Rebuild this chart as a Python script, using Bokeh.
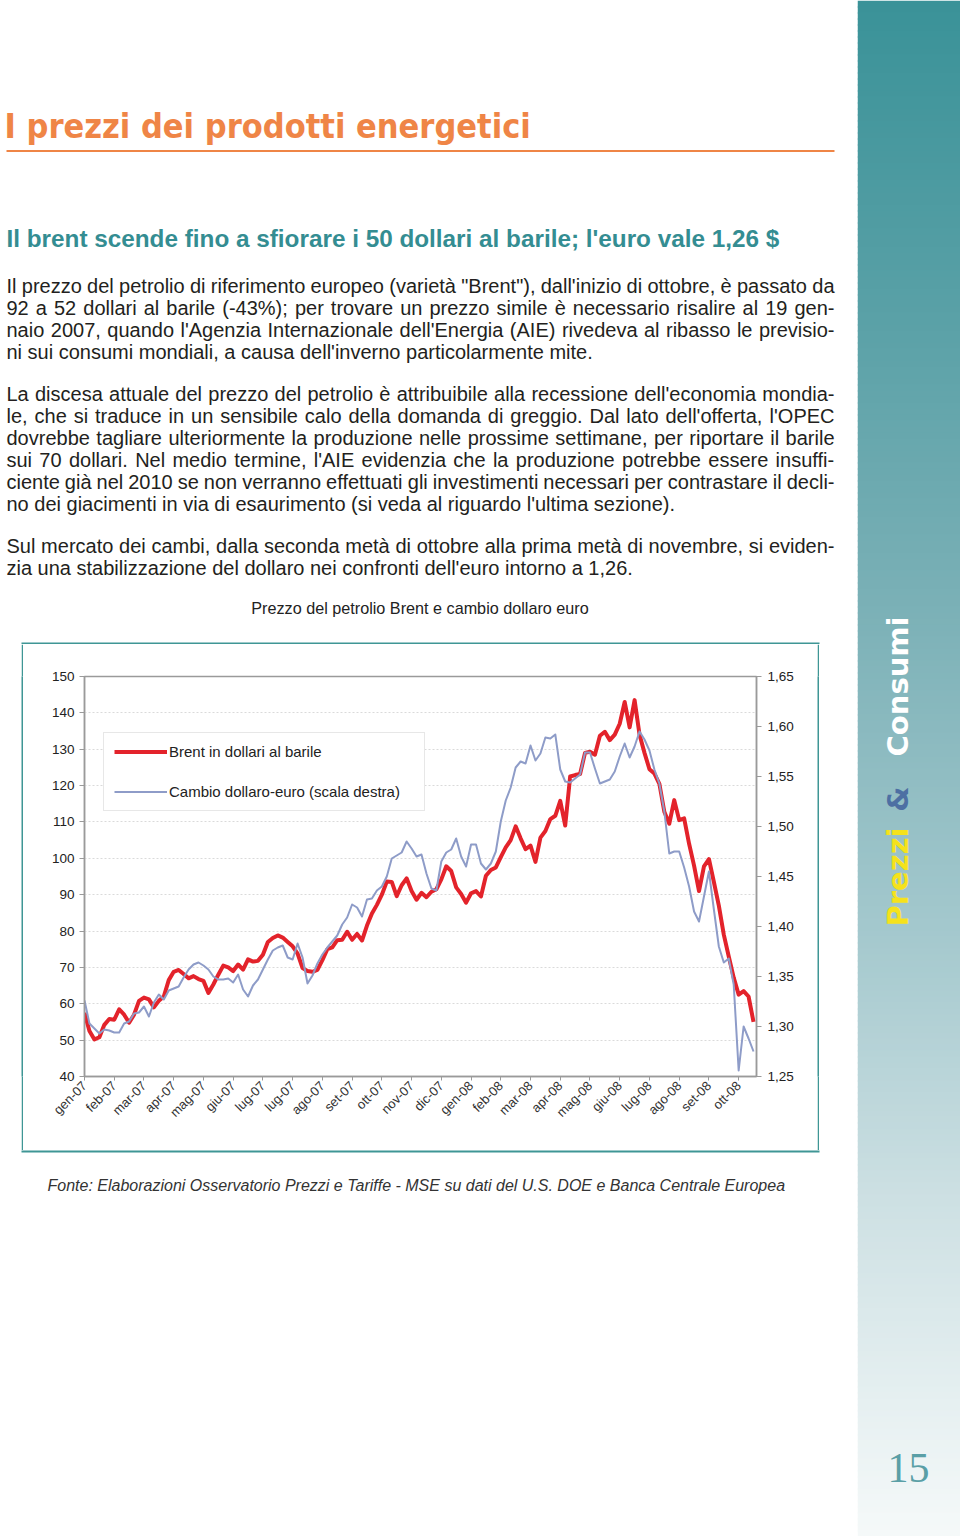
import math
from bokeh.plotting import figure
from bokeh.layouts import row, column
from bokeh.models import Range1d, LinearAxis, FixedTicker, Legend, LegendItem
from bokeh.core.properties import value
from bokeh.embed import file_html
from bokeh.resources import INLINE

# ---------------- data ----------------
month_labels = ["gen-07", "feb-07", "mar-07", "apr-07", "mag-07", "giu-07", "lug-07",
                "lug-07", "ago-07", "set-07", "ott-07", "nov-07", "dic-07", "gen-08",
                "feb-08", "mar-08", "apr-08", "mag-08", "giu-08", "lug-08", "ago-08",
                "set-08", "ott-08"]
points_per_label = 6

brent = [57.5, 52.5, 50.2, 50.8, 54.2, 55.8, 55.6, 58.5, 57.0, 54.8,
         57.0, 60.8, 61.7, 61.2, 59.0, 60.8, 62.0, 66.5, 68.8, 69.3,
         68.2, 67.0, 67.6, 66.8, 66.3, 63.0, 65.3, 68.0, 70.5, 70.0,
         69.0, 70.8, 69.4, 72.2, 71.6, 71.8, 73.5, 77.0, 78.1, 78.8,
         78.2, 77.0, 75.8, 73.8, 69.8, 69.0, 68.8, 69.3, 72.0, 75.0,
         75.5, 77.5, 77.6, 79.8, 77.6, 79.2, 77.4, 81.5, 84.8, 87.2,
         90.0, 93.6, 93.5, 89.6, 92.6, 94.5, 91.0, 88.6, 90.5, 89.3,
         90.8, 91.5, 94.2, 97.8, 96.5, 92.0, 90.2, 87.8, 90.4, 91.0,
         89.5, 95.2, 96.8, 97.5, 100.3, 103.0, 105.0, 108.8, 105.5, 102.5,
         103.5, 99.0, 105.7, 107.5, 110.8, 111.7, 115.8, 109.0, 122.5, 122.9,
         123.2, 129.0, 129.3, 128.5, 133.7, 134.8, 132.5, 134.0, 137.0, 143.0,
         136.0, 143.5, 134.0, 129.0, 124.5, 123.3, 120.5, 112.8, 109.5, 116.0,
         110.5, 111.0, 104.0, 98.0, 91.0, 97.8, 99.8, 93.5, 87.0, 79.0,
         73.0, 67.2, 62.5, 63.5, 62.0, 55.0]

usd = [1.326, 1.303, 1.298, 1.293, 1.297, 1.296, 1.294, 1.294, 1.303, 1.305,
       1.313, 1.314, 1.320, 1.310, 1.324, 1.332, 1.327, 1.336, 1.338, 1.340,
       1.349, 1.357, 1.362, 1.364, 1.361, 1.357, 1.350, 1.347, 1.347, 1.348,
       1.344, 1.352, 1.337, 1.330, 1.341, 1.347, 1.357, 1.367, 1.376, 1.379,
       1.381, 1.369, 1.367, 1.383, 1.369, 1.343, 1.351, 1.363, 1.372, 1.379,
       1.385, 1.391, 1.402, 1.409, 1.422, 1.419, 1.410, 1.427, 1.428, 1.436,
       1.440, 1.450, 1.468, 1.471, 1.474, 1.485, 1.478, 1.470, 1.472, 1.453,
       1.438, 1.436, 1.465, 1.474, 1.477, 1.488, 1.470, 1.460, 1.482, 1.482,
       1.463, 1.457, 1.463, 1.475, 1.505, 1.526, 1.539, 1.559, 1.565, 1.563,
       1.581, 1.566, 1.573, 1.589, 1.588, 1.592, 1.557, 1.545, 1.544, 1.548,
       1.552, 1.574, 1.574, 1.558, 1.543, 1.545, 1.547, 1.555, 1.570, 1.583,
       1.569, 1.580, 1.595, 1.587, 1.576, 1.557, 1.543, 1.515, 1.473, 1.475,
       1.475, 1.459, 1.440, 1.415, 1.405, 1.430, 1.455, 1.417, 1.380, 1.364,
       1.368, 1.342, 1.256, 1.300, 1.288, 1.275]

brent_ticks = [40, 50, 60, 70, 80, 90, 100, 110, 120, 130, 140, 150]
usd_ticks = [1.25, 1.30, 1.35, 1.40, 1.45, 1.50, 1.55, 1.60, 1.65]
usd_tick_labels = ["1,25", "1,30", "1,35", "1,40", "1,45", "1,50", "1,55", "1,60", "1,65"]

legend_labels = ["Brent in dollari al barile", "Cambio dollaro-euro (scala destra)"]
chart_title = "Prezzo del petrolio Brent e cambio dollaro euro"
page_title = "I prezzi dei prodotti energetici"
subtitle = "Il brent scende fino a sfiorare i 50 dollari al barile; l'euro vale 1,26 $"
paragraphs = [
    ["Il prezzo del petrolio di riferimento europeo (varietà \"Brent\"), dall'inizio di ottobre, è passato da",
     "92 a 52 dollari al barile (-43%); per trovare un prezzo simile è necessario risalire al 19 gen-",
     "naio 2007, quando l'Agenzia Internazionale dell'Energia (AIE) rivedeva al ribasso le previsio-",
     "ni sui consumi mondiali, a causa dell'inverno particolarmente mite."],
    ["La discesa attuale del prezzo del petrolio è attribuibile alla recessione dell'economia mondia-",
     "le, che si traduce in un sensibile calo della domanda di greggio. Dal lato dell'offerta, l'OPEC",
     "dovrebbe tagliare ulteriormente la produzione nelle prossime settimane, per riportare il barile",
     "sui 70 dollari. Nel medio termine, l'AIE evidenzia che la produzione potrebbe essere insuffi-",
     "ciente già nel 2010 se non verranno effettuati gli investimenti necessari per contrastare il decli-",
     "no dei giacimenti in via di esaurimento (si veda al riguardo l'ultima sezione)."],
    ["Sul mercato dei cambi, dalla seconda metà di ottobre alla prima metà di novembre, si eviden-",
     "zia una stabilizzazione del dollaro nei confronti dell'euro intorno a 1,26."],
]
source_text = "Fonte: Elaborazioni Osservatorio Prezzi e Tariffe - MSE su dati del U.S. DOE e Banca Centrale Europea"

# ---------------- styling ----------------
FONT = "Liberation Sans"
TEAL = "#3f9695"
ORANGE = "#ef8546"
TEXT = "#231f20"

# Arial / Liberation Sans advance widths (1/1000 em) for justification
AW = {}
for ch, w in zip("abcdefghijklmnopqrstuvwxyz",
                 [556, 556, 500, 556, 556, 278, 556, 556, 222, 222, 500, 222, 833,
                  556, 556, 556, 556, 333, 500, 278, 556, 500, 722, 500, 500, 500]):
    AW[ch] = w
for ch, w in zip("ABCDEFGHIJKLMNOPQRSTUVWXYZ",
                 [667, 667, 722, 722, 667, 611, 778, 722, 278, 500, 667, 556, 833,
                  722, 778, 667, 778, 722, 667, 611, 722, 667, 944, 667, 667, 611]):
    AW[ch] = w
for ch in "0123456789":
    AW[ch] = 556
AW.update({" ": 278, "!": 278, '"': 355, "$": 556, "%": 889, "'": 191, "(": 333, ")": 333,
           ",": 278, "-": 333, ".": 278, ":": 278, ";": 278, "à": 556, "è": 556, "é": 556})


def tw(s, size):
    return sum(AW.get(c, 556) for c in s) / 1000.0 * size


def blank(w, h, color="white", xr=(0, 1), yr=(0, 1)):
    f = figure(width=w, height=h, x_range=Range1d(*xr), y_range=Range1d(*yr),
               toolbar_location=None, output_backend="svg", min_border=0,
               x_axis_type=None, y_axis_type=None, outline_line_color=None,
               background_fill_color=color, border_fill_color=color)
    return f


# ---------------- top text block (page px coordinates) ----------------
top = blank(857, 644, xr=(0, 857), yr=(644, 0))
top.text(x=[4], y=[125], text=[page_title],
         text_font=value("DejaVu Sans Condensed"),
         text_font_style="bold", text_font_size="34px", text_color=ORANGE,
         text_baseline="alphabetic")
top.segment(x0=[6], y0=[150.5], x1=[834], y1=[150.5], line_color=ORANGE, line_width=2)
top.text(x=[6], y=[238], text=[subtitle], text_font=value(FONT), text_font_style="bold",
         text_font_size="24.3px", text_color="#348d92", text_baseline="alphabetic")

PSIZE = 20
X0, X1 = 6, 834
para_first_baselines = [285, 393, 545]
wx, wy, wt = [], [], []
for para, yb in zip(paragraphs, para_first_baselines):
    for k, line in enumerate(para):
        words = line.split(" ")
        widths = [tw(w_, PSIZE) for w_ in words]
        last = (k == len(para) - 1)
        if not last and len(words) > 1:
            gap = (X1 - X0 - sum(widths)) / (len(words) - 1)
        else:
            gap = tw(" ", PSIZE)
        x = X0
        for w_, wd in zip(words, widths):
            wx.append(x)
            wy.append(yb + 22 * k)
            wt.append(w_)
            x += wd + gap
top.text(x=wx, y=wy, text=wt, text_font=value(FONT), text_font_size=f"{PSIZE}px",
         text_color=TEXT, text_baseline="alphabetic")
top.text(x=[419.5], y=[607], text=[chart_title], text_font=value(FONT), text_font_size="16.2px",
         text_color="#222222", text_align="center", text_baseline="alphabetic")
# top edge of the chart frame
top.quad(left=[21], right=[819], top=[642], bottom=[644.5], fill_color=TEAL, line_color=None)

# ---------------- chart ----------------
idx = list(range(len(brent)))
x_ticks = [i * points_per_label for i in range(len(month_labels))]

p = figure(width=794, height=506, x_range=Range1d(0, 135.6), y_range=Range1d(40, 150),
           toolbar_location=None, output_backend="svg",
           min_border_left=61, min_border_right=61, min_border_top=32, min_border_bottom=74,
           background_fill_color="white", border_fill_color="white",
           outline_line_color="#9a9a9a", outline_line_width=1.5)
p.extra_y_ranges = {"usd": Range1d(1.25, 1.65)}

p.xaxis.ticker = FixedTicker(ticks=x_ticks)
p.xaxis.major_label_overrides = {t: lab for t, lab in zip(x_ticks, month_labels)}
p.xaxis.major_label_orientation = math.pi / 4
p.xaxis.minor_tick_line_color = None
p.xaxis.major_tick_in = 0
p.xaxis.major_tick_out = 4
p.xaxis.major_label_standoff = 3

p.yaxis.ticker = FixedTicker(ticks=brent_ticks)
p.yaxis.minor_tick_line_color = None
p.yaxis.major_tick_in = 0
p.yaxis.major_tick_out = 5
p.yaxis.major_label_standoff = 5

raxis = LinearAxis(y_range_name="usd", ticker=FixedTicker(ticks=usd_ticks),
                   major_label_overrides={t: s for t, s in zip(usd_ticks, usd_tick_labels)})
raxis.minor_tick_line_color = None
raxis.major_tick_in = 0
raxis.major_tick_out = 5
raxis.major_label_standoff = 6
p.add_layout(raxis, "right")

for ax in p.axis:
    ax.axis_line_color = "#9a9a9a"
    ax.axis_line_width = 1.5
    ax.major_tick_line_color = "#9a9a9a"
    ax.major_label_text_font = FONT
    ax.major_label_text_font_size = "13.5px"
    ax.major_label_text_color = "#222222"
p.xaxis.major_label_text_font_size = "13px"
p.xaxis.major_label_text_color = "#333333"

p.xgrid.visible = False
p.ygrid.ticker = FixedTicker(ticks=brent_ticks)
p.ygrid.grid_line_color = "#dadada"
p.ygrid.grid_line_dash = "2 2"
p.ygrid.grid_line_width = 1

r_red = p.line(idx, brent, line_color="#e3232b", line_width=4, line_join="round")
r_blue = p.line(idx, usd, y_range_name="usd", line_color="#8e9cc8", line_width=2, line_join="round")

legend = Legend(items=[LegendItem(label=legend_labels[0], renderers=[r_red]),
                       LegendItem(label=legend_labels[1], renderers=[r_blue])],
                location=(19, 265), padding=10, margin=0,
                glyph_width=53, glyph_height=17, label_height=17, label_standoff=2,
                spacing=23, label_width=245,
                border_line_color="#cfcfcf", border_line_width=1.5,
                background_fill_color="white", background_fill_alpha=1.0,
                label_text_font=FONT, label_text_font_size="15px", label_text_color="#222222")
p.add_layout(legend)

chart_row = row(blank(21, 506), blank(2, 506, TEAL), p, blank(2, 506, TEAL), blank(38, 506))

# ---------------- bottom (source) ----------------
bottom = blank(857, 386, xr=(0, 857), yr=(1536, 1150))
bottom.quad(left=[21], right=[819], top=[1149.5], bottom=[1152], fill_color=TEAL, line_color=None)
bottom.text(x=[47], y=[1185], text=[source_text], text_font=value(FONT),
            text_font_style="italic", text_font_size="16px", text_color="#333333",
            text_baseline="alphabetic")

# ---------------- sidebar ----------------
side = blank(103, 1536, xr=(857, 960), yr=(1536, 0))
stops = [(0, (58, 146, 152)), (300, (88, 160, 166)), (600, (122, 176, 182)),
         (940, (165, 201, 206)), (1200, (205, 224, 227)), (1420, (232, 241, 242)),
         (1536, (245, 249, 249))]


def grad(y):
    for (ya, ca), (yb, cb) in zip(stops[:-1], stops[1:]):
        if ya <= y <= yb:
            t = (y - ya) / (yb - ya)
            c = [round(a + (b - a) * t) for a, b in zip(ca, cb)]
            return "#%02x%02x%02x" % tuple(c)
    return "#%02x%02x%02x" % stops[-1][1]


band_tops = list(range(0, 1536, 6))
side.quad(left=857, right=960, top=band_tops, bottom=[b + 7 for b in band_tops],
          fill_color=[grad(b + 3) for b in band_tops], line_color=None)
side.text(x=[897, 897, 897], y=[876.5, 798.5, 686], text=["Prezzi", "&", "Consumi"],
          angle=math.pi / 2, text_font=value("DejaVu Sans"), text_font_style="bold",
          text_font_size="29px", text_color=["#f5e21c", "#4d6fa3", "#ffffff"],
          text_align="center", text_baseline="alphabetic")
side.text(x=[908], y=[1467], text=["15"], text_font=value("Liberation Serif"),
          text_font_size="42px", text_color="#5a9fa6", text_align="center",
          text_baseline="alphabetic")

page = row(column(top, chart_row, bottom), side)

open("out.html", "w").write(file_html(page, INLINE))
